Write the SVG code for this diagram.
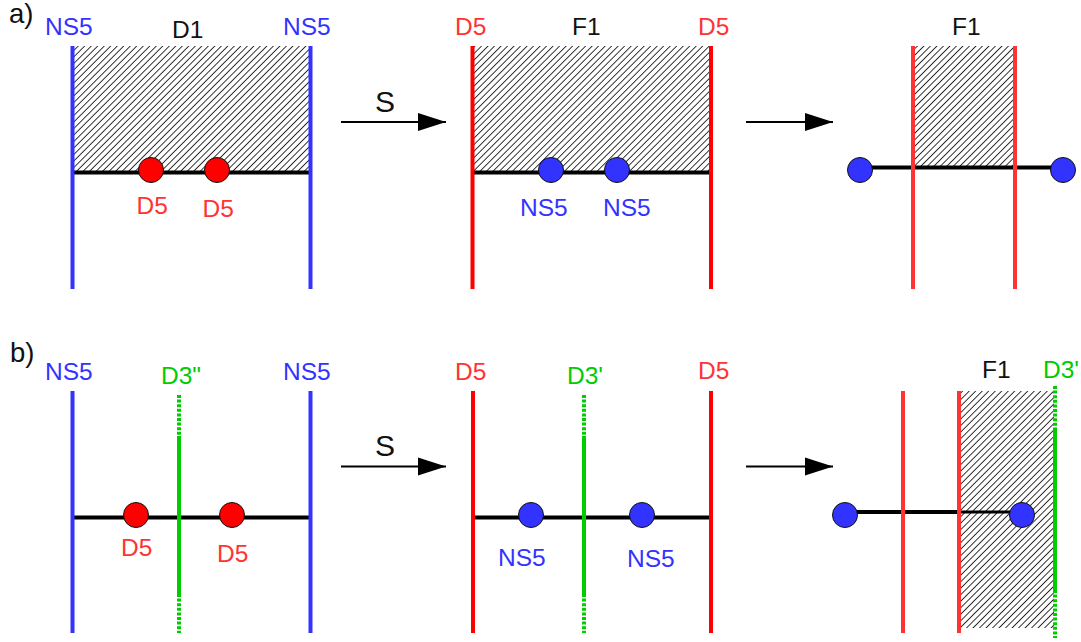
<svg xmlns="http://www.w3.org/2000/svg" width="1081" height="642" viewBox="0 0 1081 642">
<style>
text{font-family:"Liberation Sans",Arial,sans-serif;font-size:24.5px}
.k{fill:#111}.b{fill:#3333ff}.r{fill:#ff3333}.g{fill:#00cc00}
.hatch{stroke:none;fill:url(#h)}
.v{fill:none;stroke-width:4}
.vb{stroke:#3333ff}.vr{stroke:#ff0000}.vl{stroke:#ff3333}.vg{stroke:#00cc00}
.d{stroke-dasharray:3 1.6}
.bar{stroke:#000;stroke-width:4;fill:none}
.arr{stroke:#000;stroke-width:2;fill:none;marker-end:url(#a)}
.cr{fill:#ff0000;stroke:#111;stroke-width:1}
.cb{fill:#3333ff;stroke:#111;stroke-width:1}
</style>
<defs>
<pattern id="h" width="4.6" height="4.6" patternUnits="userSpaceOnUse" patternTransform="rotate(45)">
<rect width="4.6" height="4.6" fill="#fff"/><line x1="0" y1="0" x2="0" y2="4.6" stroke="#111" stroke-width="1.7"/>
</pattern>
<marker id="a" markerUnits="userSpaceOnUse" markerWidth="29" markerHeight="20" refX="28" refY="9.5" orient="auto">
<path d="M0 .5L28 9.5L0 18.500Z" fill="#000"/>
</marker>
</defs>
<rect width="1081" height="642" fill="#fff"/>
<g id="panel-labels">
<text x="9" y="22.500" style="font-size:27.500px" class="k">a)</text>
<text x="10" y="362" style="font-size:27.500px" class="k">b)</text>
</g>
<g id="regions">
<rect class="hatch" x="74" y="46" width="235" height="125"/>
<rect class="hatch" x="474" y="46" width="236" height="125"/>
<rect class="hatch" x="915" y="46" width="98" height="120"/>
<rect class="hatch" x="961" y="391" width="93" height="237"/>
</g>
<g id="connectors">
<path class="bar" d="M74 172.500H309"/>
<path class="bar" d="M474 172.500H710"/>
<path class="bar" d="M860 167.500H1063"/>
<path class="bar" d="M74 517.500H309"/>
<path class="bar" d="M474 517.500H710"/>
<path class="bar" d="M845 512H959"/>
<path class="bar" style="stroke-width:3" d="M959 512H1022"/>
<path class="arr" d="M341 122H446"/>
<path class="arr" d="M746 122H833"/>
<path class="arr" d="M341 466.500H446"/>
<path class="arr" d="M746 466.500H833"/>
</g>
<g id="a1-ns5-left"><path class="v vb" d="M72.500 46V289"/><text class="b" x="45" y="35">NS5</text></g>
<g id="a1-ns5-right"><path class="v vb" d="M310.500 46V289"/><text class="b" x="283" y="35">NS5</text></g>
<g id="a1-d1"><text class="k" x="172" y="38">D1</text></g>
<g id="a1-d5-1"><circle class="cr" cx="151" cy="170" r="12.500"/><text class="r" x="136.500" y="214">D5</text></g>
<g id="a1-d5-2"><circle class="cr" cx="217" cy="170" r="12.500"/><text class="r" x="202.500" y="217">D5</text></g>
<g id="a-s"><text class="k" x="375" y="112" style="font-size:30px">S</text></g>
<g id="a2-d5-left"><path class="v vr" d="M472.500 46V289"/><text class="r" x="455" y="35">D5</text></g>
<g id="a2-d5-right"><path class="v vr" d="M711 46V289"/><text class="r" x="698" y="35">D5</text></g>
<g id="a2-f1"><text class="k" x="572" y="35">F1</text></g>
<g id="a2-ns5-1"><circle class="cb" cx="551" cy="170" r="12.500"/><text class="b" x="520" y="216">NS5</text></g>
<g id="a2-ns5-2"><circle class="cb" cx="617" cy="170" r="12.500"/><text class="b" x="603" y="216">NS5</text></g>
<g id="a3-d5-left"><path class="v vl" d="M913 46V289"/></g>
<g id="a3-d5-right"><path class="v vl" d="M1015 46V289"/></g>
<g id="a3-f1"><text class="k" x="952" y="35">F1</text></g>
<g id="a3-c1"><circle class="cb" cx="860" cy="170" r="12.500"/></g>
<g id="a3-c2"><circle class="cb" cx="1063" cy="170" r="12.500"/></g>
<g id="b1-ns5-left"><path class="v vb" d="M72.500 391V633"/><text class="b" x="45" y="379.500">NS5</text></g>
<g id="b1-ns5-right"><path class="v vb" d="M310.500 391V633"/><text class="b" x="283" y="379.500">NS5</text></g>
<g id="b1-d3"><path class="v vg d" d="M179 395V436"/><path class="v vg" d="M179 436V594"/><path class="v vg d" d="M179 594V633"/><text class="g" x="161" y="384">D3"</text></g>
<g id="b1-d5-1"><circle class="cr" cx="136" cy="515" r="12.500"/><text class="r" x="121" y="556">D5</text></g>
<g id="b1-d5-2"><circle class="cr" cx="232" cy="515" r="12.500"/><text class="r" x="217" y="562">D5</text></g>
<g id="b-s"><text class="k" x="375" y="456" style="font-size:30px">S</text></g>
<g id="b2-d5-left"><path class="v vr" d="M473 391V633"/><text class="r" x="455" y="380">D5</text></g>
<g id="b2-d5-right"><path class="v vr" d="M711 391V633"/><text class="r" x="698" y="379">D5</text></g>
<g id="b2-d3"><path class="v vg d" d="M584 395V436"/><path class="v vg" d="M584 436V594"/><path class="v vg d" d="M584 594V633"/><text class="g" x="567" y="384">D3'</text></g>
<g id="b2-ns5-1"><circle class="cb" cx="531" cy="515" r="12.500"/><text class="b" x="498" y="566">NS5</text></g>
<g id="b2-ns5-2"><circle class="cb" cx="642" cy="515" r="12.500"/><text class="b" x="627" y="567">NS5</text></g>
<g id="b3-d5-left"><path class="v vl" d="M903 391V633"/></g>
<g id="b3-d5-right"><path class="v vl" d="M959 391V633"/></g>
<g id="b3-d3"><path class="v vg d" d="M1055 386V428"/><path class="v vg" d="M1055 428V590"/><path class="v vg d" d="M1055 590V638"/><text class="g" x="1043" y="378">D3'</text></g>
<g id="b3-f1"><text class="k" x="982" y="378">F1</text></g>
<g id="b3-c1"><circle class="cb" cx="845" cy="515" r="12.500"/></g>
<g id="b3-c2"><circle class="cb" cx="1022" cy="515" r="12.500"/></g>
</svg>
